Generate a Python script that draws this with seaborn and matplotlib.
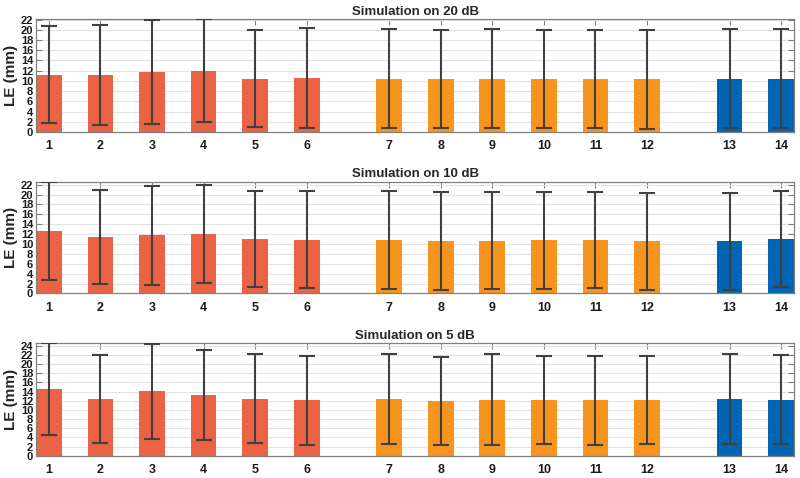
import matplotlib
matplotlib.use('Agg')
from matplotlib import pyplot as plt
import seaborn as sns
import numpy as np
import pandas as pd

# methods 1..14, in three groups
labels = [str(i) for i in range(1, 15)]
groups = ["A"] * 6 + ["B"] * 6 + ["C"] * 2
colors = {"A": "#EA6344", "B": "#F7941E", "C": "#0066B3"}

titles = ["Simulation on 20 dB", "Simulation on 10 dB", "Simulation on 5 dB"]

mean_20 = [11.25, 11.1, 11.7, 12.03, 10.41, 10.5, 10.45, 10.34, 10.45, 10.34, 10.38, 10.3, 10.4, 10.45]
sd_20 = [9.5, 9.76, 10.2, 10.07, 9.54, 9.78, 9.74, 9.61, 9.64, 9.61, 9.58, 9.65, 9.71, 9.68]

mean_10 = [12.7, 11.4, 11.73, 12.03, 10.99, 10.86, 10.82, 10.57, 10.69, 10.73, 10.79, 10.6, 10.6, 10.99]
sd_10 = [9.9, 9.45, 9.98, 9.83, 9.72, 9.79, 9.88, 9.84, 9.82, 9.73, 9.72, 9.8, 9.8, 9.72]

mean_5 = [14.5, 12.38, 14.06, 13.2, 12.45, 12.05, 12.35, 11.9, 12.22, 12.15, 12.07, 12.15, 12.3, 12.22]
sd_5 = [10.05, 9.53, 10.34, 9.79, 9.75, 9.7, 9.85, 9.55, 9.88, 9.65, 9.73, 9.65, 9.8, 9.73]

series = [(mean_20, sd_20), (mean_10, sd_10), (mean_5, sd_5)]

# bar positions: unit spacing, extra gap of 0.6 between groups
pos = []
x = 1.0
for i, g in enumerate(groups):
    if i > 0 and g != groups[i - 1]:
        x += 0.6
    pos.append(x)
    x += 1.0
pos = np.array(pos)

sns.set_theme(style="white")
plt.rcParams['font.family'] = ['Liberation Sans', 'DejaVu Sans']
plt.rcParams['font.weight'] = 'bold'

fig = plt.figure(figsize=(8, 4.78), dpi=100)
boxes = [[0.045, 0.724, 0.9475, 0.236],
         [0.045, 0.386, 0.9475, 0.234],
         [0.045, 0.0466, 0.9475, 0.2354]]

for (means, sds), title, box in zip(series, titles, boxes):
    ax = fig.add_axes(box)
    df = pd.DataFrame({"pos": pos, "mean": means, "sd": sds, "group": groups})
    sns.barplot(data=df, x="pos", y="mean", hue="group", palette=colors,
                native_scale=True, width=0.5, dodge=False, legend=False,
                errorbar=None, saturation=1, linewidth=0, ax=ax)
    ax.errorbar(df["pos"], df["mean"], yerr=df["sd"], fmt="none",
                ecolor="#404040", elinewidth=1.5, capsize=5.8, capthick=1.5,
                zorder=3)
    ymax = max(m + s for m, s in zip(means, sds))
    ax.set_xlim(pos[0] - 0.25, pos[-1] + 0.25)
    ax.set_ylim(0, ymax)
    yt = np.arange(0, ymax + 0.01, 2)
    ax.set_yticks(yt)
    ax.set_yticklabels([str(int(v)) for v in yt], fontsize=8, fontweight="bold")
    ax.set_xticks(pos)
    ax.set_xticklabels(labels, fontsize=9, fontweight="bold")
    ax.xaxis.grid(False)
    ax.yaxis.grid(True, color="#E3E3E3", linewidth=0.8)
    ax.set_axisbelow(True)
    ax.tick_params(direction="in", length=4, width=0.8, color="#808080",
                   top=True, right=True, bottom=True, left=True,
                   labelcolor="#1A1A1A")
    ax.tick_params(axis="x", pad=6)
    ax.tick_params(axis="y", pad=2)
    for sp in ax.spines.values():
        sp.set_visible(True)
        sp.set_color("#808080")
        sp.set_linewidth(0.9)
    ax.set_xlabel("")
    ax.set_ylabel("LE (mm)", fontsize=11, fontweight="bold", labelpad=2)
    ax.set_title(title, fontsize=9.5, fontweight="bold", pad=3)

fig.savefig("out.png", dpi=100)
